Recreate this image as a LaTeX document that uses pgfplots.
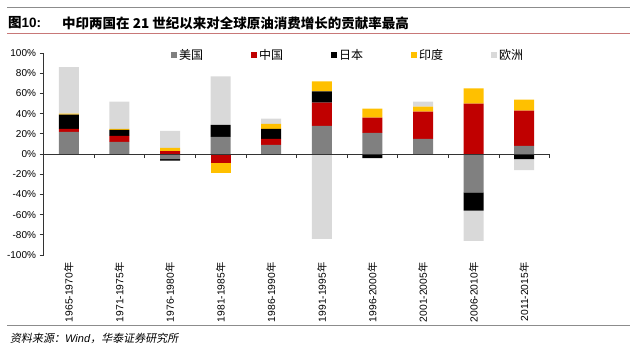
\documentclass[border=0pt]{standalone}
\usepackage{fontspec}
\setmainfont{Liberation Sans}
\newfontfamily\cjk{Noto Sans CJK SC}
\newfontfamily\cjksl{Noto Sans CJK SC}[FakeSlant=0.18]
\usepackage{pgfplots}
\pgfplotsset{compat=1.18}
\usepackage{pgfplotstable}

\definecolor{cUS}{HTML}{808080}
\definecolor{cCN}{HTML}{C00000}
\definecolor{cJP}{HTML}{000000}
\definecolor{cIN}{HTML}{FFC000}
\definecolor{cEU}{HTML}{D9D9D9}
\definecolor{titleline}{RGB}{200,120,120}

\pgfplotsset{sq legend/.style={legend image code/.code={\fill[##1] (0pt,-3pt) rectangle (6pt,3pt);}}}

% positive contributions (stacked upward)
\pgfplotstableread{
x us cn jp ind eu
0 22 3 14 1 46
1 12 6 6 1 27
2 0 3 0 3 17
3 17 0 12 0 48
4 9 6 10 5 5
5 28 23 11 10 0
6 21 15 0 9 0
7 15 27 0 5 5
8 0 50 0 15 0
9 8 35 0 11 0
}\postab
% negative contributions (stacked downward)
\pgfplotstableread{
x us cn jp ind eu
0 0 0 0 0 0
1 0 0 0 0 0
2 -5 0 -1.5 0 0
3 0 -9 0 -10 0
4 0 0 0 0 0
5 0 0 0 0 -84
6 0 0 -4 0 0
7 0 0 -0.8 0 0
8 -38 0 -18 0 -30
9 0 0 -5 0 -11
}\negtab

\begin{document}
\begin{tikzpicture}[x=1pt,y=1pt]
\useasboundingbox (0,0) rectangle (640,350);
\draw[black!45, line width=0.8pt] (7,342.7) -- (630,342.7);
\draw[titleline, line width=1pt] (7,316.7) -- (630,316.7);
\node[anchor=west, inner sep=0, font=\fontsize{13.5}{15}\selectfont\bfseries] at (8,327) {{\cjk\bfseries 图}10:};
\node[anchor=west, inner sep=0, font=\cjk\fontsize{13.5}{15}\selectfont\bfseries] at (62,327) {中印两国在 21 世纪以来对全球原油消费增长的贡献率最高};
\draw[black!45, line width=0.8pt] (7,24.7) -- (630,24.7);
\node[anchor=west, inner sep=0, font=\fontsize{11}{12}\selectfont] at (10,12) {{\cjksl 资料来源：}\textit{Wind}{\cjksl ，华泰证券研究所}};

\begin{axis}[
  at={(86,94)}, anchor=south west, scale only axis,
  width=506pt, height=202pt,
  ybar stacked, bar width=20pt,
  xmin=-0.5, xmax=9.5, ymin=-100, ymax=100,
  axis x line=bottom, axis y line=left,
  axis line style={-},
  x axis line style={draw=none},
  y axis line style={black!80, line width=0.8pt},
  xtick={0,...,9},
  xticklabels={1965-1970{\cjk 年},1971-1975{\cjk 年},1976-1980{\cjk 年},1981-1985{\cjk 年},1986-1990{\cjk 年},1991-1995{\cjk 年},1996-2000{\cjk 年},2001-2005{\cjk 年},2006-2010{\cjk 年},2011-2015{\cjk 年}},
  major x tick style={draw=none},
  xticklabel style={rotate=90, anchor=east, font=\fontsize{10.3}{11}\selectfont},
  ytick={-100,-80,...,100},
  yticklabels={-100\%,-80\%,-60\%,-40\%,-20\%,0\%,20\%,40\%,60\%,80\%,100\%},
  yticklabel style={font=\fontsize{10}{11}\selectfont},
  tick align=outside, major tick length=4pt,
  y tick style={black!80, line width=0.8pt},
  legend columns=5,
  legend style={draw=none, fill=none, at={(0.602,0.99)}, anchor=center,
    font=\cjk\fontsize{12}{13}\selectfont,
    /tikz/every even column/.append style={column sep=46pt}},
]
\addplot[fill=cUS, draw=none, sq legend] table[x=x,y=us]{\postab};
\addlegendentry{美国}
\addplot[fill=cCN, draw=none, sq legend] table[x=x,y=cn]{\postab};
\addlegendentry{中国}
\addplot[fill=cJP, draw=none, sq legend] table[x=x,y=jp]{\postab};
\addlegendentry{日本}
\addplot[fill=cIN, draw=none, sq legend] table[x=x,y=ind]{\postab};
\addlegendentry{印度}
\addplot[fill=cEU, draw=none, sq legend] table[x=x,y=eu]{\postab};
\addlegendentry{欧洲}
\end{axis}

\begin{axis}[
  at={(86,94)}, anchor=south west, scale only axis,
  width=506pt, height=202pt,
  ybar stacked, bar width=20pt,
  xmin=-0.5, xmax=9.5, ymin=-100, ymax=100,
  axis x line=middle, axis y line=none,
  axis line style={-},
  x axis line style={black!80, line width=0.8pt},
  xtick={-0.5,0.5,...,9.5}, xticklabels={,,,,,,,,,,,},
  ytick=\empty,
  tick align=outside, major tick length=4pt,
  x tick style={black!80, line width=0.8pt},
  axis on top,
]
\addplot[fill=cUS, draw=none, forget plot] table[x=x,y=us]{\negtab};
\addplot[fill=cCN, draw=none, forget plot] table[x=x,y=cn]{\negtab};
\addplot[fill=cJP, draw=none, forget plot] table[x=x,y=jp]{\negtab};
\addplot[fill=cIN, draw=none, forget plot] table[x=x,y=ind]{\negtab};
\addplot[fill=cEU, draw=none, forget plot] table[x=x,y=eu]{\negtab};
\end{axis}
\end{tikzpicture}
\end{document}
